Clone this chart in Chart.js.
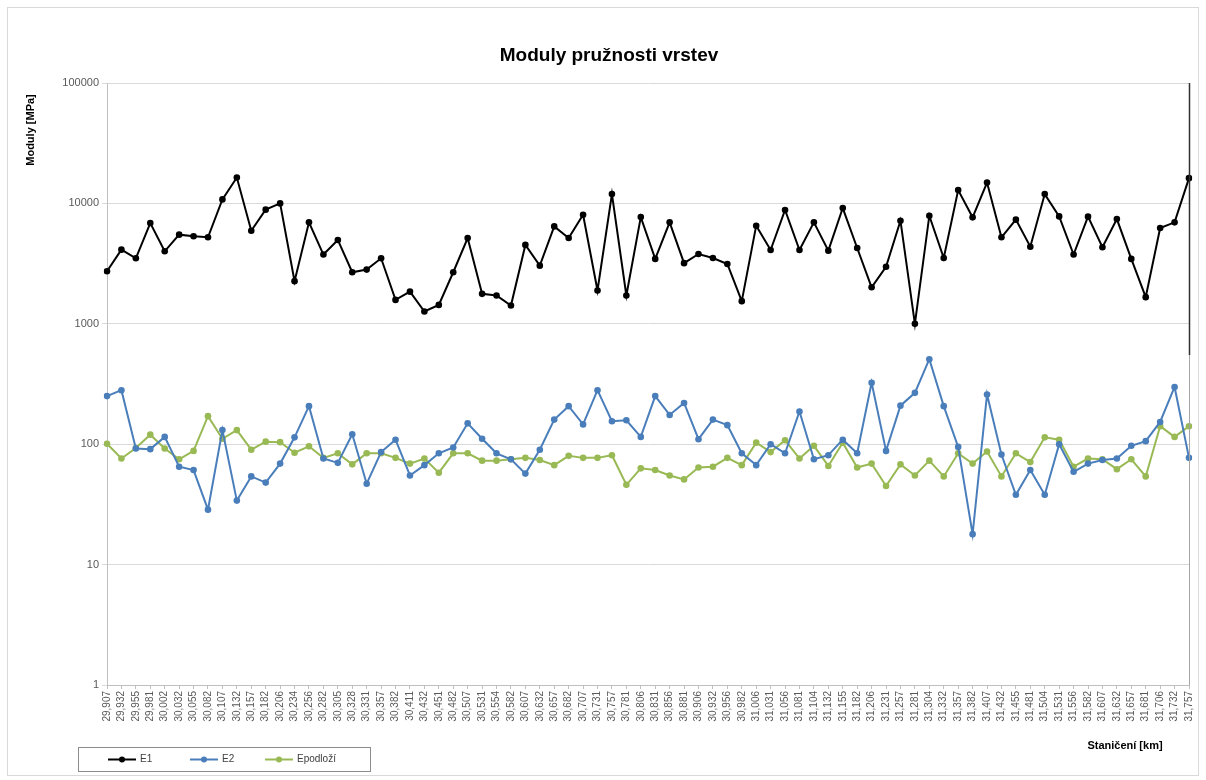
<!DOCTYPE html>
<html>
<head>
<meta charset="utf-8">
<title>Moduly pružnosti vrstev</title>
<script src="https://cdn.jsdelivr.net/npm/chart.js@4/dist/chart.umd.min.js"></script>
<style>
  html, body { margin: 0; padding: 0; background: #ffffff; }
  canvas { display: block; }
</style>
</head>
<body>
<canvas id="chart" width="1206" height="780"></canvas>
<script>
// Staničení [km]
const stations = [
  '29,907','29,932','29,955','29,981','30,002','30,032','30,055','30,082','30,107','30,132',
  '30,157','30,182','30,206','30,234','30,256','30,282','30,305','30,328','30,331','30,357',
  '30,382','30,411','30,432','30,451','30,482','30,507','30,531','30,554','30,582','30,607',
  '30,632','30,657','30,682','30,707','30,731','30,757','30,781','30,806','30,831','30,856',
  '30,881','30,906','30,932','30,956','30,982','31,006','31,031','31,056','31,081','31,104',
  '31,132','31,155','31,182','31,206','31,231','31,257','31,281','31,304','31,332','31,357',
  '31,382','31,407','31,432','31,455','31,481','31,504','31,531','31,556','31,582','31,607',
  '31,632','31,657','31,681','31,706','31,732','31,757'
];

// Moduly [MPa]
const e1 = [
  2730, 4130, 3500, 6870, 4000, 5500, 5330, 5230, 10800, 16400,
  5930, 8870, 10000, 2260, 6960, 3760, 4970, 2680, 2820, 3500,
  1580, 1850, 1265, 1436, 2680, 5160, 1774, 1718, 1419, 4520,
  3040, 6440, 5160, 8050, 1890, 11950, 1718, 7700, 3460, 6960,
  3190, 3800, 3520, 3140, 1542, 6530, 4100, 8810, 4100, 6960,
  4050, 9150, 4260, 2010, 2980, 7180, 1000, 7900, 3520, 12900,
  7660, 14900, 5230, 7330, 4370, 11950, 7800, 3760, 7760, 4320,
  7410, 3460, 1665, 6250, 6960, 16200
];

const e2 = [
  251, 281, 92, 91, 115, 65, 61, 28.6, 131, 34,
  54, 48, 69, 114, 207, 76, 70, 121, 47, 86,
  109, 55, 67, 84, 94, 149, 111, 84, 75, 57,
  90, 160, 207, 146, 281, 155, 158, 115, 251, 175,
  220, 110, 160, 144, 84, 67, 100, 84, 187, 75,
  81, 109, 84, 324, 88, 209, 267, 508, 207, 95,
  17.9, 259, 82, 38, 61, 38, 100, 59, 69, 74,
  76, 97, 106, 153, 299, 77
];

const epodlozi = [
  101, 76, 93, 120, 92, 75, 88, 171, 111, 131,
  90, 105, 104, 85, 96, 77, 84, 68, 84, 84,
  77, 69, 76, 58, 84, 84, 73, 73, 75, 77,
  74, 67, 80, 77, 77, 81, 46, 63, 61, 55,
  51, 64, 65, 77, 67, 103, 86, 108, 76, 97,
  66, 103, 64, 69, 45, 68, 55, 73, 54, 84,
  69, 87, 54, 84, 71, 114, 109, 65, 76, 75,
  62, 75, 54, 141, 115, 141
];

const yTickValues = [1, 10, 100, 1000, 10000, 100000];
const seriesNames = ['E1', 'E2', 'Epodloží'];
const seriesColors = ['#000000', '#4a7ebb', '#98b954'];

const chartTitle = 'Moduly pružnosti vrstev';
const yAxisTitle = 'Moduly [MPa]';
const xAxisTitle = 'Staničení [km]';

const FONT = "'Liberation Sans', Arial, sans-serif";

function makeSeries(name, values, color) {
  return {
    label: name,
    data: values,
    borderColor: color,
    backgroundColor: color,
    borderWidth: 2,
    pointRadius: 3.3,
    pointBorderWidth: 0,
    pointBackgroundColor: color,
    pointHoverRadius: 3.3,
    tension: 0,
    fill: false
  };
}

// Frame, titles, legend box, right-edge marker line
const decorations = {
  id: 'decorations',
  beforeDraw(chart) {
    const ctx = chart.ctx;
    ctx.save();
    ctx.fillStyle = '#ffffff';
    ctx.fillRect(0, 0, chart.width, chart.height);
    ctx.strokeStyle = '#d9d9d9';
    ctx.lineWidth = 1;
    ctx.strokeRect(7.5, 7.5, 1191, 768);
    ctx.restore();
  },
  afterDatasetsDraw(chart) {
    const ctx = chart.ctx;
    const a = chart.chartArea;
    ctx.save();
    ctx.lineWidth = 1.5;
    ctx.strokeStyle = '#303030';
    ctx.beginPath();
    ctx.moveTo(a.right + 0.5, a.top);
    ctx.lineTo(a.right + 0.5, 355);
    ctx.stroke();
    ctx.strokeStyle = '#a6a6a6';
    ctx.lineWidth = 1;
    ctx.beginPath();
    ctx.moveTo(a.right + 0.5, 355);
    ctx.lineTo(a.right + 0.5, a.bottom);
    ctx.stroke();
    ctx.restore();
  },
  afterDraw(chart) {
    const ctx = chart.ctx;
    ctx.save();

    // chart title
    ctx.fillStyle = '#000000';
    ctx.font = 'bold 19px ' + FONT;
    ctx.textAlign = 'center';
    ctx.textBaseline = 'middle';
    ctx.fillText(chartTitle, 609, 56);

    // y axis title
    ctx.save();
    ctx.translate(31, 130);
    ctx.rotate(-Math.PI / 2);
    ctx.font = 'bold 11px ' + FONT;
    ctx.fillText(yAxisTitle, 0, 0);
    ctx.restore();

    // x axis title
    ctx.font = 'bold 11px ' + FONT;
    ctx.fillText(xAxisTitle, 1125, 746);

    // legend
    ctx.strokeStyle = '#8c8c8c';
    ctx.lineWidth = 1;
    ctx.strokeRect(78.5, 747.5, 292, 24);
    const slots = [108, 190, 265];
    const cy = 759.5;
    ctx.textAlign = 'left';
    ctx.font = '10px ' + FONT;
    chart.data.datasets.forEach((ds, i) => {
      const x0 = slots[i];
      ctx.strokeStyle = ds.borderColor;
      ctx.lineWidth = 2;
      ctx.beginPath();
      ctx.moveTo(x0, cy);
      ctx.lineTo(x0 + 28, cy);
      ctx.stroke();
      ctx.fillStyle = ds.borderColor;
      ctx.beginPath();
      ctx.arc(x0 + 14, cy, 3, 0, Math.PI * 2);
      ctx.fill();
      ctx.fillStyle = '#404040';
      ctx.fillText(ds.label, x0 + 32, cy);
    });

    ctx.restore();
  }
};

new Chart(document.getElementById('chart'), {
  type: 'line',
  data: {
    labels: stations,
    datasets: [
      makeSeries(seriesNames[0], e1, seriesColors[0]),
      makeSeries(seriesNames[1], e2, seriesColors[1]),
      makeSeries(seriesNames[2], epodlozi, seriesColors[2])
    ]
  },
  options: {
    responsive: false,
    animation: false,
    events: [],
    layout: { padding: { top: 83, right: 17, bottom: 0, left: 0 } },
    plugins: {
      legend: { display: false },
      title: { display: false },
      tooltip: { enabled: false }
    },
    scales: {
      x: {
        type: 'category',
        offset: false,
        afterFit(scale) { scale.height = 95; },
        grid: {
          drawOnChartArea: false,
          drawTicks: true,
          tickLength: 4,
          color: '#bfbfbf'
        },
        border: { color: '#bfbfbf', width: 1 },
        ticks: {
          autoSkip: false,
          minRotation: 90,
          maxRotation: 90,
          padding: 2,
          color: '#595959',
          font: { family: FONT, size: 10 }
        }
      },
      y: {
        type: 'logarithmic',
        min: 1,
        max: 100000,
        afterFit(scale) { scale.width = 107; },
        afterBuildTicks(scale) {
          scale.ticks = yTickValues.map(v => ({ value: v, major: true }));
        },
        grid: {
          color: '#d9d9d9',
          tickLength: 5,
          drawTicks: true
        },
        border: { color: '#bfbfbf', width: 1 },
        ticks: {
          padding: 3,
          color: '#595959',
          font: { family: FONT, size: 11 },
          callback: v => String(v)
        }
      }
    }
  },
  plugins: [decorations]
});
</script>
</body>
</html>
